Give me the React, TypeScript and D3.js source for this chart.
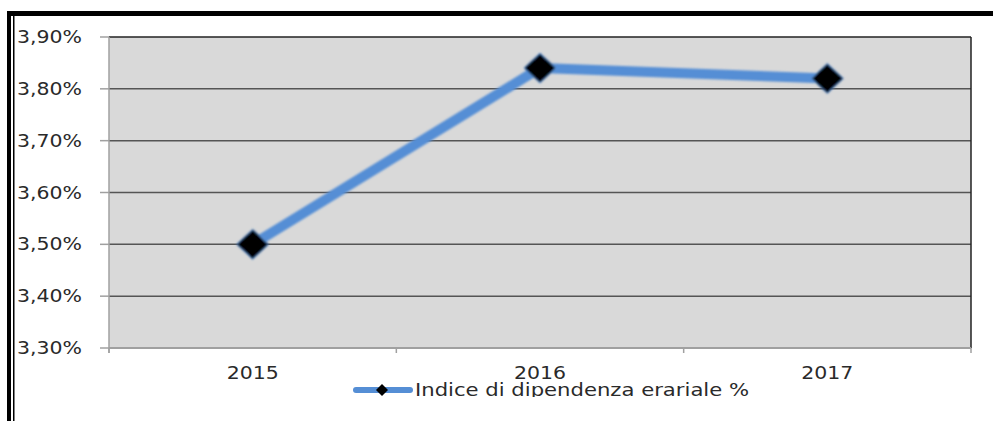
import React from 'react';
import * as d3 from 'd3';

const years = ['2015', '2016', '2017'];
const values = [3.5, 3.84, 3.82];
const yTicks = [3.3, 3.4, 3.5, 3.6, 3.7, 3.8, 3.9];
const seriesName = 'Indice di dipendenza erariale %';

const W = 993;
const H = 421;
const plot = { left: 109, right: 971, top: 37, bottom: 348 };
const font = 'DejaVu Sans, Verdana, sans-serif';
const stretch = 1.17;

const fmt = (v: number) => v.toFixed(2).replace('.', ',') + '%';

export default function App() {
  const x = d3.scaleBand<string>().domain(years).range([plot.left, plot.right]);
  const y = d3.scaleLinear().domain([3.3, 3.9]).range([plot.bottom, plot.top]);
  const line = d3
    .line<number>()
    .x((_, i) => (x(years[i]) as number) + x.bandwidth() / 2)
    .y((d) => y(d));

  const diamond = (cx: number, cy: number, rx: number, ry: number) =>
    `M${cx},${cy - ry}L${cx + rx},${cy}L${cx},${cy + ry}L${cx - rx},${cy}Z`;

  const bounds = [...years.map((d) => x(d) as number), plot.right];

  return (
    <svg
      width={W}
      height={H}
      style={{ position: 'absolute', left: 0, top: 0, background: '#fff' }}
    >
      <defs>
        <filter id="blur" x="-20%" y="-20%" width="140%" height="140%">
          <feGaussianBlur stdDeviation="0.8" />
        </filter>
        <clipPath id="legclip">
          <rect x={0} y={380} width={W} height={17} />
        </clipPath>
      </defs>

      {/* page borders */}
      <rect x={7} y={11} width={W - 7} height={5} fill="#000" />
      <rect x={7} y={11} width={4} height={H - 11} fill="#000" />
      <rect x={13} y={16} width={1.5} height={H - 16} fill="#000" />

      {/* plot area */}
      <rect
        x={plot.left}
        y={plot.top}
        width={plot.right - plot.left}
        height={plot.bottom - plot.top}
        fill="#d9d9d9"
      />
      {yTicks.slice(1).map((t) => (
        <line
          key={t}
          x1={plot.left}
          x2={plot.right}
          y1={y(t)}
          y2={y(t)}
          stroke={t === 3.9 ? '#222' : '#555'}
          strokeWidth={1.5}
        />
      ))}
      <line x1={plot.right} x2={plot.right} y1={plot.top} y2={plot.bottom} stroke="#222" strokeWidth={1.5} />

      {/* axes */}
      <line x1={plot.left} x2={plot.left} y1={plot.top} y2={plot.bottom + 5} stroke="#a0a0a0" strokeWidth={1.5} />
      <line x1={plot.left} x2={plot.right} y1={plot.bottom} y2={plot.bottom} stroke="#a0a0a0" strokeWidth={2} />
      {yTicks.map((t) => (
        <line key={'t' + t} x1={plot.left - 9} x2={plot.left} y1={y(t)} y2={y(t)} stroke="#a0a0a0" strokeWidth={1.5} />
      ))}
      {bounds.map((b, i) => (
        <line key={'b' + i} x1={b} x2={b} y1={plot.bottom} y2={plot.bottom + 5} stroke="#a0a0a0" strokeWidth={1.5} />
      ))}

      {yTicks.map((t) => (
        <text
          key={'l' + t}
          transform={`translate(82,${y(t) + 6}) scale(${stretch},1)`}
          textAnchor="end"
          fontFamily={font}
          fontSize={17.5}
          fill="#2a2a2a"
        >
          {fmt(t)}
        </text>
      ))}
      {years.map((d) => (
        <text
          key={d}
          transform={`translate(${(x(d) as number) + x.bandwidth() / 2},379) scale(${stretch},1)`}
          textAnchor="middle"
          fontFamily={font}
          fontSize={17.5}
          fill="#2a2a2a"
        >
          {d}
        </text>
      ))}

      {/* series */}
      <g filter="url(#blur)">
        <path d={line(values) || ''} fill="none" stroke="#558ed5" strokeWidth={10} strokeLinejoin="round" />
        {values.map((v, i) => {
          const cx = (x(years[i]) as number) + x.bandwidth() / 2;
          return (
            <path key={i} d={diamond(cx, y(v), 16, 15)} fill="#000" stroke="#558ed5" strokeWidth={1} />
          );
        })}
      </g>

      {/* legend */}
      <g clipPath="url(#legclip)">
        <line x1={356} x2={410} y1={390} y2={390} stroke="#558ed5" strokeWidth={6} strokeLinecap="round" />
        <path d={diamond(382, 390, 6, 6)} fill="#000" />
        <text
          transform={`translate(415,395.5) scale(1.21,1)`}
          fontFamily={font}
          fontSize={17.5}
          fill="#2a2a2a"
        >
          {seriesName}
        </text>
      </g>
    </svg>
  );
}
